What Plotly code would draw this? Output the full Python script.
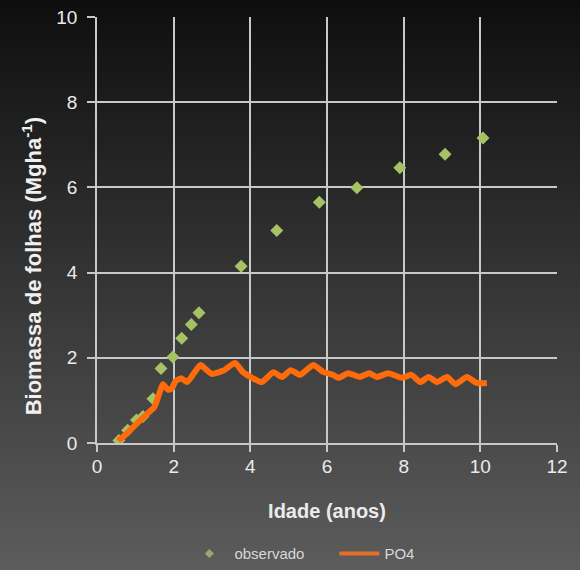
import plotly.graph_objects as go

# Observed leaf biomass (Mg/ha) by stand age (years)
obs_idade = [0.57, 0.80, 1.03, 1.20, 1.46, 1.67, 1.98, 2.21, 2.46, 2.66,
             3.76, 4.69, 5.80, 6.78, 7.90, 9.08, 10.07]
obs_biomassa = [0.06, 0.30, 0.54, 0.62, 1.04, 1.75, 2.02, 2.46, 2.78, 3.06,
                4.15, 4.99, 5.65, 5.99, 6.46, 6.78, 7.16]

# Simulated leaf biomass, model PO4
po4_idade = [0.55, 0.75, 0.95, 1.15, 1.35, 1.50, 1.62, 1.72, 1.85, 1.95,
             2.05, 2.20, 2.35, 2.50, 2.70, 2.85, 3.00, 3.30, 3.60, 3.80,
             4.05, 4.30, 4.60, 4.83, 5.05, 5.30, 5.64, 5.90, 6.15, 6.30,
             6.55, 6.85, 7.10, 7.30, 7.60, 7.95, 8.20, 8.43, 8.65, 8.87,
             9.13, 9.35, 9.65, 9.90, 10.17]
po4_biomassa = [0.05, 0.20, 0.38, 0.55, 0.72, 0.85, 1.15, 1.38, 1.25, 1.28,
                1.45, 1.52, 1.43, 1.60, 1.83, 1.72, 1.62, 1.70, 1.88, 1.67,
                1.53, 1.43, 1.66, 1.55, 1.71, 1.60, 1.83, 1.67, 1.60, 1.53,
                1.64, 1.55, 1.64, 1.55, 1.64, 1.53, 1.60, 1.43, 1.55, 1.43,
                1.55, 1.38, 1.55, 1.41, 1.41]

x_ticks = [0, 2, 4, 6, 8, 10, 12]
y_ticks = [0, 2, 4, 6, 8, 10]

W, H = 580, 570
ML, MR, MT, MB = 97, 23, 17, 127
PW, PH = W - ML - MR, H - MT - MB

obs_color = "rgb(165,194,100)"
po4_color = "rgb(255,106,10)"

fig = go.Figure()

fig.add_trace(go.Scatter(
    x=obs_idade, y=obs_biomassa, mode="markers", name="observado",
    legendgroup="obs", showlegend=False,
    marker=dict(symbol="diamond", size=10, color=obs_color, line=dict(width=0)),
))
fig.add_trace(go.Scatter(
    x=po4_idade, y=po4_biomassa, mode="lines", name="PO4",
    legendgroup="po4", showlegend=False,
    line=dict(color=po4_color, width=6, shape="spline", smoothing=0.5),
))

# Legend entries: a small swatch for the observations, a bar for the model
fig.add_trace(go.Scatter(
    x=[None], y=[None], mode="markers", name="observado", legendgroup="obs",
    marker=dict(symbol="diamond", size=7, color="rgb(150,168,112)"),
))
fig.add_trace(go.Scatter(
    x=[None], y=[None], mode="lines", name="PO4", legendgroup="po4",
    line=dict(color="rgb(230,110,40)", width=4),
))

# Vertical dark-to-grey gradient behind the whole figure
shapes = []
step = 6
for py in range(0, H, step):
    t = (py + step / 2) / H
    v = int(round(14 + 78 * t))
    y_top = (H - MB - py) / PH
    y_bot = (H - MB - (py + step + 1)) / PH
    shapes.append(dict(
        type="rect", xref="paper", yref="paper", layer="below",
        x0=-ML / PW - 0.01, x1=(W - ML) / PW + 0.01, y0=y_bot, y1=y_top,
        fillcolor=f"rgb({v},{v},{v})", line=dict(width=0),
    ))

grid = "rgb(200,200,200)"
font_family = "Liberation Sans, Arial, sans-serif"
tick_font = dict(size=19, color="rgb(235,235,235)")

fig.update_layout(
    width=W, height=H,
    margin=dict(l=ML, r=MR, t=MT, b=MB, autoexpand=False),
    paper_bgcolor="rgb(40,40,40)",
    plot_bgcolor="rgba(0,0,0,0)",
    shapes=shapes,
    font=dict(family=font_family, color="rgb(235,235,235)"),
    showlegend=True,
    legend=dict(
        orientation="h", x=0.19, xanchor="left", y=-0.26, yanchor="middle",
        font=dict(size=15, color="rgb(215,215,215)"),
        bgcolor="rgba(0,0,0,0)", itemwidth=40,
        entrywidth=95, entrywidthmode="pixels",
    ),
    xaxis=dict(
        range=[0, 12], tickvals=x_ticks, ticks="outside", ticklen=7,
        tickcolor=grid, tickwidth=1.5,
        showgrid=True, gridcolor=grid, gridwidth=1.5,
        zeroline=False, showline=True, linecolor=grid, linewidth=1.5,
        tickfont=tick_font, ticklabelstandoff=-2, automargin=False,
        title=dict(text="<b>Idade (anos)</b>", font=dict(size=20), standoff=28),
        fixedrange=True,
    ),
    yaxis=dict(
        range=[0, 10], tickvals=y_ticks, ticks="outside", ticklen=8,
        tickcolor=grid, tickwidth=1.5,
        showgrid=True, gridcolor=grid, gridwidth=1.5,
        zeroline=False, showline=True, linecolor=grid, linewidth=1.5,
        tickfont=tick_font, ticklabelstandoff=6, automargin=False,
        fixedrange=True,
    ),
    annotations=[dict(
        text="<b>Biomassa de folhas (Mgha<sup>-1</sup>)</b>",
        xref="paper", yref="paper", x=-0.141, y=0.415,
        xanchor="center", yanchor="middle", textangle=-90, showarrow=False,
        font=dict(size=22, color="rgb(240,240,240)"),
    )],
)

fig.write_html("out.html", config={"displayModeBar": False})
